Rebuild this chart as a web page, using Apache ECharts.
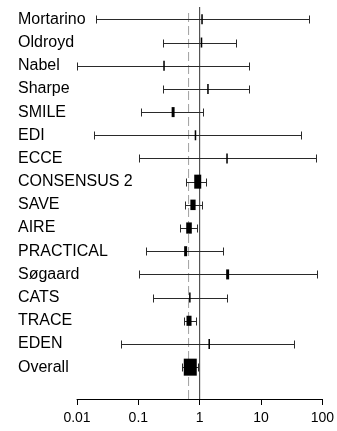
<!DOCTYPE html>
<html>
<head>
<meta charset="utf-8">
<script src="https://cdn.jsdelivr.net/npm/echarts@6/dist/echarts.min.js"></script>
<style>
html,body{margin:0;padding:0;background:#fff;}
#chart{width:337px;height:431px;}
</style>
</head>
<body>
<div id="chart"></div>
<script>
const studies = ['Mortarino','Oldroyd','Nabel','Sharpe','SMILE','EDI','ECCE','CONSENSUS 2','SAVE','AIRE','PRACTICAL','Søgaard','CATS','TRACE','EDEN','Overall'];
const estimates = [1.02, 1.0, 0.25, 1.27, 0.35, 0.8, 2.57, 0.87, 0.73, 0.63, 0.556, 2.63, 0.65, 0.63, 1.33, 0.66];
const lower = [0.02, 0.24, 0.01, 0.24, 0.105, 0.019, 0.1, 0.565, 0.535, 0.45, 0.128, 0.1, 0.164, 0.52, 0.051, 0.49];
const upper = [54, 3.6, 5.8, 5.8, 1.07, 40, 68, 1.2, 1.02, 0.86, 2.2, 72, 2.57, 0.82, 30.5, 0.87];
const weights = [1.2, 1.2, 1.2, 1.2, 4.5, 1.2, 1.2, 25, 14, 16, 4.5, 4.5, 1.2, 13, 1.2, 100];
const pooled = 0.66;
const nullValue = 1;
const tickValues = [0.01, 0.1, 1, 10, 100];

const chart = echarts.init(document.getElementById('chart'), null, {renderer: 'canvas'});
const FONT = "'Liberation Sans', Arial, Helvetica, sans-serif";
const rows = studies.map((s, i) => [lower[i], estimates[i], upper[i], i, weights[i], s === 'Overall' ? 1 : 0]);

function renderItem(params, api) {
  const lo = api.coord([api.value(0), api.value(3)]);
  const est = api.coord([api.value(1), api.value(3)]);
  const hi = api.coord([api.value(2), api.value(3)]);
  const w = api.value(4);
  const overall = api.value(5) === 1;
  const y = Math.round(lo[1]) + 0.5;
  const x1 = Math.round(lo[0]) + 0.5, x2 = Math.round(hi[0]) + 0.5;
  let bw, bh;
  if (overall) { bw = 13; bh = 17; }
  else { bw = Math.max(1.5, 1.4 * Math.sqrt(w)); bh = Math.max(10, 2.8 * Math.sqrt(w)); }
  const st = {stroke: '#2a2a2a', lineWidth: 1};
  return {
    type: 'group',
    children: [
      {type: 'line', shape: {x1: x1, y1: y, x2: x2, y2: y}, style: st},
      {type: 'line', shape: {x1: x1, y1: y - 4, x2: x1, y2: y + 4}, style: st},
      {type: 'line', shape: {x1: x2, y1: y - 4, x2: x2, y2: y + 4}, style: st},
      {type: 'rect', shape: {x: est[0] - bw / 2, y: est[1] - bh / 2, width: bw, height: bh}, style: {fill: '#000'}}
    ]
  };
}

const option = {
  animation: false,
  backgroundColor: '#fff',
  grid: [
    {left: 77, right: 11, top: 7.75, height: 371},
    {left: 77, right: 11, top: 7, height: 392}
  ],
  xAxis: [
    {gridIndex: 0, type: 'log', logBase: 10, min: 0.01, max: 100, show: false},
    {gridIndex: 1, type: 'log', logBase: 10, min: 0.01, max: 100,
     axisLine: {show: true, lineStyle: {color: '#000', width: 1}},
     axisTick: {show: true, length: 6, lineStyle: {color: '#000'}},
     minorTick: {show: false},
     splitLine: {show: false},
     axisLabel: {fontSize: 14, fontFamily: FONT, color: '#000', margin: 12,
       formatter: v => { const r = tickValues.find(t => Math.abs(Math.log10(t) - Math.log10(v)) < 1e-6); return r !== undefined ? String(r) : ''; }}
    }
  ],
  yAxis: [
    {gridIndex: 0, type: 'category', data: studies, inverse: true,
     axisLine: {show: false}, axisTick: {show: false}, splitLine: {show: false},
     axisLabel: {align: 'left', margin: 59, fontSize: 16, fontFamily: FONT, color: '#000'}},
    {gridIndex: 1, type: 'value', min: 0, max: 1, show: false}
  ],
  series: [
    {type: 'line', xAxisIndex: 1, yAxisIndex: 1, data: [[nullValue, 0], [nullValue, 1]], symbol: 'none',
     lineStyle: {color: '#333', width: 1}, z: 1},
    {type: 'line', xAxisIndex: 1, yAxisIndex: 1, data: [[pooled, 0], [pooled, 0.992]], symbol: 'none',
     lineStyle: {color: '#a0a0a0', width: 1, type: [9, 4]}, z: 1},
    {type: 'custom', xAxisIndex: 0, yAxisIndex: 0, data: rows, renderItem: renderItem,
     encode: {x: [0, 1, 2], y: 3}, z: 5}
  ]
};
chart.setOption(option);
</script>
</body>
</html>
